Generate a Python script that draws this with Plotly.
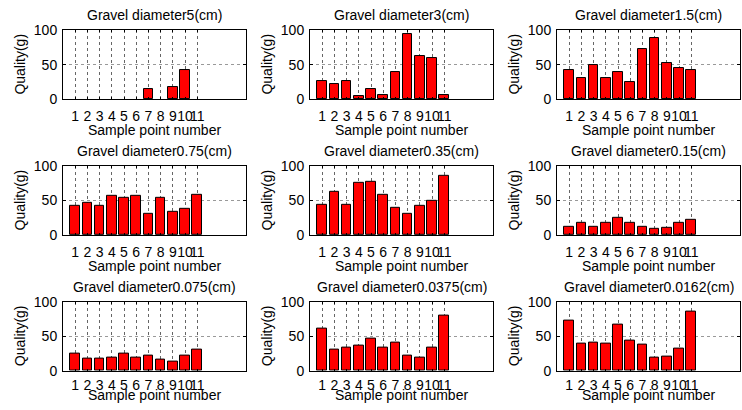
import plotly.graph_objects as go

W, H = 742, 410

sample_points = list(range(1, 12))
tick_labels = [str(i) for i in sample_points]
y_ticks = [0, 50, 100]

titles = [
    "Gravel diameter5(cm)", "Gravel diameter3(cm)", "Gravel diameter1.5(cm)",
    "Gravel diameter0.75(cm)", "Gravel diameter0.35(cm)", "Gravel diameter0.15(cm)",
    "Gravel diameter0.075(cm)", "Gravel diameter0.0375(cm)", "Gravel diameter0.0162(cm)",
]

mass_5 = [0, 0, 0, 0, 0, 0, 15, 0, 17, 42, 0]
mass_3 = [26, 22, 26, 4, 15, 6, 39, 94, 62, 59, 6]
mass_1_5 = [42, 31, 50, 30, 39, 25, 72, 88, 53, 45, 42]
mass_0_75 = [42, 46, 42, 57, 54, 57, 30, 54, 33, 38, 58]
mass_0_35 = [43, 62, 43, 76, 77, 58, 39, 31, 42, 50, 86]
mass_0_15 = [12, 17, 12, 17, 25, 17, 12, 9, 11, 17, 22]
mass_0_075 = [25, 18, 18, 19, 25, 19, 22, 16, 13, 22, 30]
mass_0_0375 = [61, 30, 34, 36, 47, 33, 41, 22, 19, 33, 80]
mass_0_0162 = [72, 39, 41, 39, 67, 44, 38, 19, 20, 32, 85]

series = [mass_5, mass_3, mass_1_5, mass_0_75, mass_0_35, mass_0_15,
          mass_0_075, mass_0_0375, mass_0_0162]

FONT = "Liberation Sans, Arial, sans-serif"
FS = 14

# target picture positions (pixels)
col_left = [63, 310, 557]
ax_w = 183
row_top = [32.5, 168, 303.5]
ax_h = 69

# the photographed page comes out slightly squeezed vertically;
# convert target picture rows into figure rows
SQ_A, SQ_S = 10.5, 0.959


def py(y):
    return (y - SQ_A) / SQ_S


def fx(x):
    return x / W


def fy(y):
    return 1 - py(y) / H


fig = go.Figure()
annotations = []
layout = {}

for i, (vals, title) in enumerate(zip(series, titles)):
    r, c = divmod(i, 3)
    n = "" if i == 0 else str(i + 1)
    x0 = col_left[c]
    x1 = x0 + ax_w
    yt = row_top[r]
    yb = yt + ax_h
    last_row = r == 2

    fig.add_trace(go.Bar(
        x=sample_points, y=vals, width=0.8,
        marker=dict(color="#ff0000",
                    line=dict(color="#000000", width=[1 if v > 0 else 0 for v in vals])),
        xaxis="x" + n, yaxis="y" + n, showlegend=False,
    ))

    layout["xaxis" + n] = dict(
        domain=[fx(x0), fx(x1)], anchor="y" + n, range=[0, 15],
        tickmode="array", tickvals=sample_points, ticktext=tick_labels,
        tickangle=0,
        ticks="inside", ticklen=2, tickcolor="#000", mirror="ticks",
        showline=True, linecolor="#000", linewidth=1,
        showgrid=True, gridcolor="#666", griddash="dot", gridwidth=1,
        zeroline=False, fixedrange=True,
        tickfont=dict(family=FONT, size=FS, color="#000"),
        ticklabelstandoff=1 if last_row else 4,
    )
    layout["yaxis" + n] = dict(
        domain=[fy(yb), fy(yt)], anchor="x" + n, range=[0, 100],
        tickmode="array", tickvals=y_ticks,
        ticks="inside", ticklen=3, tickcolor="#000", mirror="ticks",
        showline=True, linecolor="#000", linewidth=1,
        showgrid=True, gridcolor="#999", griddash="dot", gridwidth=1,
        zeroline=False, fixedrange=True,
        tickfont=dict(family=FONT, size=FS, color="#000"),
        ticklabelstandoff=2,
    )

    xc = fx((x0 + x1) / 2)
    xlab_y = min(yb + 30.5, 397)
    annotations.append(dict(
        text=title, x=xc, y=fy(yt - 15), xref="paper", yref="paper",
        xanchor="center", yanchor="middle", showarrow=False,
        font=dict(family=FONT, size=FS, color="#000"),
    ))
    annotations.append(dict(
        text="Sample point number", x=xc, y=fy(xlab_y),
        xref="paper", yref="paper", xanchor="center", yanchor="middle",
        showarrow=False, font=dict(family=FONT, size=FS, color="#000"),
    ))
    annotations.append(dict(
        text="Quality(g)", x=fx(x0 - 43), y=fy((yt + yb) / 2),
        xref="paper", yref="paper", xanchor="center", yanchor="middle",
        textangle=-90, showarrow=False,
        font=dict(family=FONT, size=FS, color="#000"),
    ))

fig.update_layout(
    width=W, height=H, margin=dict(l=0, r=0, t=0, b=0),
    paper_bgcolor="#ffffff", plot_bgcolor="#ffffff",
    annotations=annotations, bargap=0,
    **layout,
)

fig.write_html("out.html")
